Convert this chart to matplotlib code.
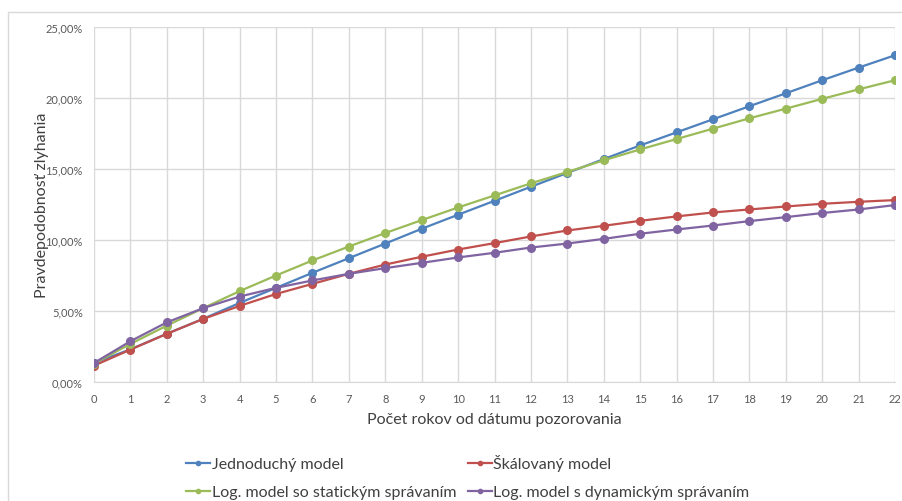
import matplotlib.pyplot as plt
from matplotlib.patches import Rectangle
from matplotlib.ticker import FuncFormatter
import numpy as np

plt.rcParams['font.family'] = ['Lato', 'DejaVu Sans']

years = list(range(0, 23))

# default probability in percent per model
jednoduchy = [1.34, 2.3, 3.4, 4.45, 5.57, 6.63, 7.69, 8.72, 9.75, 10.79, 11.78, 12.76,
              13.75, 14.72, 15.70, 16.66, 17.58, 18.50, 19.42, 20.33, 21.25, 22.14, 23.01]
skalovany = [1.15, 2.28, 3.39, 4.44, 5.36, 6.20, 6.91, 7.62, 8.27, 8.82, 9.33, 9.78,
             10.25, 10.67, 11.00, 11.35, 11.66, 11.94, 12.15, 12.36, 12.55, 12.69, 12.81]
log_staticky = [1.30, 2.68, 3.97, 5.20, 6.40, 7.50, 8.56, 9.54, 10.49, 11.40, 12.29, 13.14,
                13.99, 14.79, 15.61, 16.38, 17.11, 17.84, 18.57, 19.25, 19.94, 20.61, 21.25]
log_dynamicky = [1.34, 2.87, 4.20, 5.20, 6.02, 6.63, 7.15, 7.62, 8.02, 8.39, 8.77, 9.10,
                 9.47, 9.75, 10.08, 10.44, 10.74, 11.02, 11.33, 11.61, 11.90, 12.15, 12.46]

series = [
    ('Jednoduchý model', jednoduchy, '#4F81BD'),
    ('Škálovaný model', skalovany, '#C0504D'),
    ('Log. model so statickým správaním', log_staticky, '#9BBB59'),
    ('Log. model s dynamickým správaním', log_dynamicky, '#8064A2'),
]

fig = plt.figure(figsize=(9.02, 5.02), dpi=100)
ax = fig.add_axes([94 / 902, 1 - 383 / 502, (895 - 94) / 902, (383 - 28) / 502])

# outer chart border
fig.patches.append(Rectangle((8 / 902, -0.1), 1.0, 1 - 13 / 502 + 0.1,
                             transform=fig.transFigure, fill=False,
                             edgecolor='#D9D9D9', linewidth=1))

handles = []
for name, vals, col in series:
    h, = ax.plot(years, vals, color=col, linewidth=1.6, marker='o', markersize=5.5,
                 label=name, zorder=3)
    handles.append(h)

ax.set_xlim(0, 22)
ax.set_ylim(0, 25)
ax.set_xticks(years)
ax.set_yticks(np.arange(0, 26, 5))
ax.yaxis.set_major_formatter(FuncFormatter(lambda v, p: f'{v:.2f}%'.replace('.', ',')))
ax.grid(True, color='#D9D9D9', linewidth=1)
ax.set_axisbelow(True)
for s in ['top', 'right', 'left']:
    ax.spines[s].set_visible(False)
ax.spines['bottom'].set_color('#D9D9D9')
ax.tick_params(length=0, labelsize=8, colors='#595959', pad=8)

ax.set_xlabel('Počet rokov od dátumu pozorovania', fontsize=11.5, color='#404040', labelpad=6)
ax.set_ylabel('Pravdepodobnosť zlyhania', fontsize=11.5, color='#404040', labelpad=1)
ax.yaxis.set_label_coords(-45 / 801, 0.5)

# legend fills column-wise, so order handles to read row by row
order = [0, 2, 1, 3]
fig.legend(handles=[handles[i] for i in order], loc='upper left',
           bbox_to_anchor=(172 / 902, 1 - 441 / 502),
           ncol=2, frameon=False, fontsize=11.5, handlelength=1.5, handletextpad=0.1,
           columnspacing=0.7, labelspacing=0.85, labelcolor='#404040', markerscale=0.55)

fig.savefig('out.png', dpi=100, facecolor='white')
